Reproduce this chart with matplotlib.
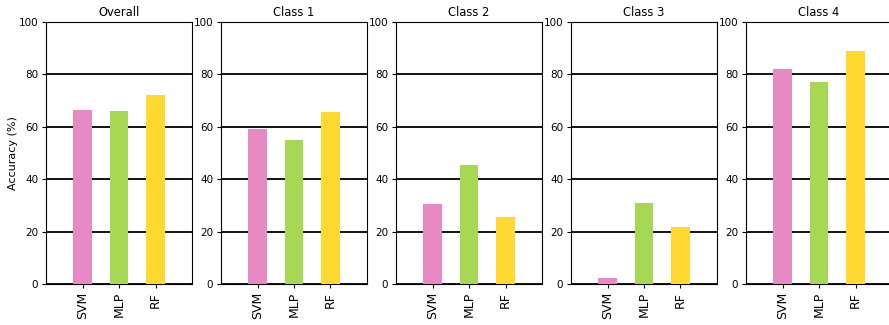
import matplotlib
matplotlib.use("Agg")
import matplotlib.pyplot as plt
import numpy as np

# accuracy per classifier, one panel per subset
titles = ["Overall", "Class 1", "Class 2", "Class 3", "Class 4"]
models = ["SVM", "MLP", "RF"]
svm = [66.5, 59.0, 30.5, 2.3, 82.0]
mlp = [66.0, 55.0, 45.5, 31.0, 77.0]
rf = [72.0, 65.5, 25.6, 21.8, 89.0]
colors = ["#e78ac3", "#a6d854", "#ffd92f"]

W, H = 889, 325
fig = plt.figure(figsize=(W / 100, H / 100), dpi=100)

ind = np.arange(1, len(models) + 1)
for i, title in enumerate(titles):
    left = 46 + 175 * i
    ax = fig.add_axes([left / W, (H - 284) / H, 146 / W, 262 / H])
    vals = [svm[i], mlp[i], rf[i]]
    ax.bar(ind, vals, 0.52, color=colors, zorder=3)
    ax.set_xlim(0, 4)
    ax.set_ylim(0, 100)
    ax.set_yticks([0, 20, 40, 60, 80, 100])
    ax.yaxis.grid(True, color="black", linewidth=1.3, zorder=0)
    ax.set_axisbelow(True)
    ax.set_xticks(ind)
    ax.set_xticklabels(models, rotation=90, fontsize=9)
    ax.tick_params(axis="y", labelsize=7.5)
    ax.tick_params(length=2.8, pad=2.8)
    ax.set_title(title, fontsize=8.3, pad=4.5)
    if i == 0:
        ax.set_ylabel("Accuracy (%)", fontsize=8)
        ax.yaxis.set_label_coords(-0.19, 0.5)

fig.savefig("out.png", dpi=100)
